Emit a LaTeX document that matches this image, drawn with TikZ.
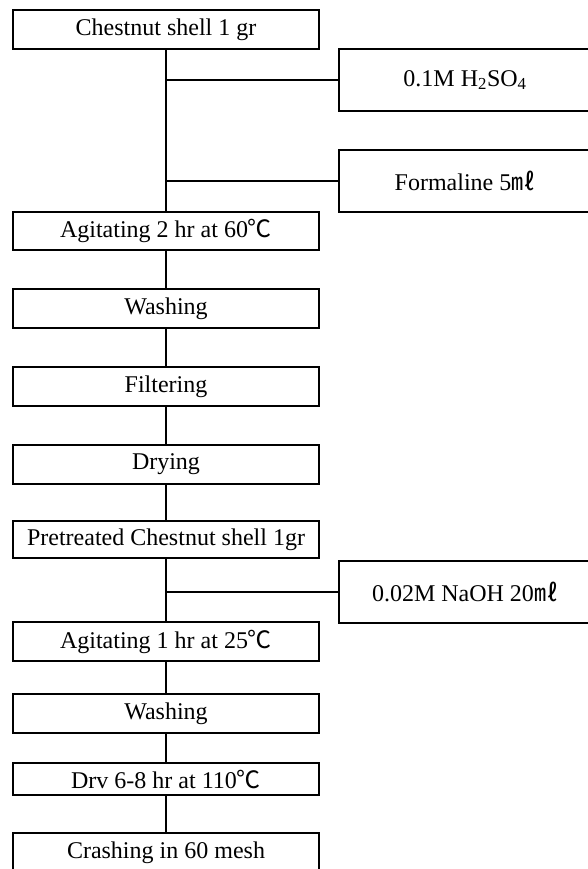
\documentclass[tikz,border=0pt]{standalone}
\usepackage{fontspec}
\setmainfont{Liberation Serif}
\newfontfamily\cjk{Noto Sans CJK KR}
\usetikzlibrary{positioning}

\begin{document}
\begin{tikzpicture}[node distance=39pt,font=\fontsize{24}{28}\selectfont,
 stepbox/.style={draw,line width=1.8pt,minimum width=306pt,minimum height=39pt,inner sep=0pt,outer sep=0pt},
 addbox/.style={draw,line width=1.8pt,minimum width=252pt,minimum height=62pt,inner sep=0pt,outer sep=0pt,anchor=north west},
 link/.style={line width=1.5pt}]
\useasboundingbox (0,0) rectangle (587pt,-869pt);
% main line of steps
\node[stepbox] (shell) at (166pt,-29.5pt) {Chestnut shell 1 gr};
\node[stepbox,below=163pt of shell,minimum height=38pt] (agit1) {Agitating 2 hr at 60{\cjk ℃}};
\node[stepbox,below=of agit1] (wash1) {Washing};
\node[stepbox,below=of wash1] (filter) {Filtering};
\node[stepbox,below=of filter] (dry1) {Drying};
\node[stepbox,below=37pt of dry1,minimum height=37pt] (pre) {Pretreated Chestnut shell 1gr};
\node[stepbox,below=64pt of pre] (agit2) {Agitating 1 hr at 25{\cjk ℃}};
\node[stepbox,below=33pt of agit2] (wash2) {Washing};
\node[stepbox,below=30pt of wash2,minimum height=32pt] (dry2) {Drv 6-8 hr at 110{\cjk ℃}};
\node[stepbox,below=38pt of dry2,minimum height=40pt] (crash) {Crashing in 60 mesh};
% reagents on the right
\node[addbox] (acid) at (339pt,-49pt) {0.1M H\textsubscript{2}SO\textsubscript{4}};
\node[addbox,below=39pt of acid] (formal) {Formaline 5{\cjk ㎖}};
\node[addbox] (base) at (339pt,-561pt) {0.02M NaOH 20{\cjk ㎖}};
\foreach \a/\b in {shell/agit1,agit1/wash1,wash1/filter,filter/dry1,dry1/pre,pre/agit2,agit2/wash2,wash2/dry2,dry2/crash}
 \draw[link] (\a) -- (\b);
\draw[link] (acid.west) -- (acid.west -| shell); \draw[link] (formal.west) -- (formal.west -| shell);
\draw[link] (base.west) -- (base.west -| pre);
\end{tikzpicture}
\end{document}
